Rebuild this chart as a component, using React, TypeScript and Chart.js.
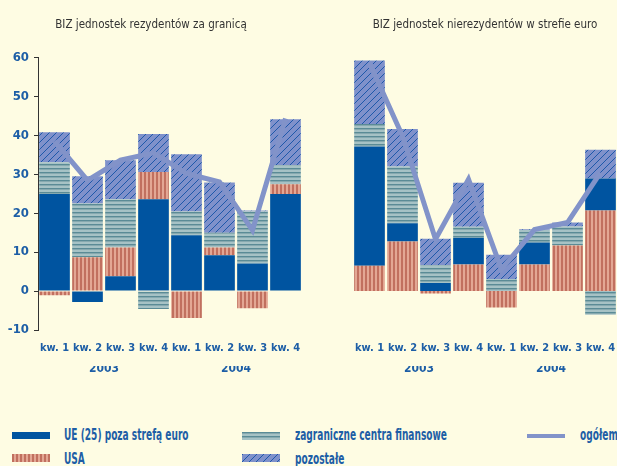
import React, { useEffect, useRef } from "react";
import { Chart, registerables } from "chart.js";

Chart.register(...registerables);

const quarters = ["kw. 1", "kw. 2", "kw. 3", "kw. 4", "kw. 1", "kw. 2", "kw. 3", "kw. 4"];
const years = ["", "2003", "", "", "", "2004", "", ""];

const leftTitle = "BIZ jednostek rezydentów za granicą";
const rightTitle = "BIZ jednostek nierezydentów w strefie euro";

// Left panel: outward FDI by residents
const leftUE = [24.9, -2.8, 3.8, 23.6, 14.3, 9.2, 7.1, 24.9];
const leftUSA = [-1.1, 8.7, 7.4, 7.0, -6.9, 2.0, -4.4, 2.5];
const leftCentra = [8.2, 13.8, 12.4, -4.6, 6.1, 3.8, 13.3, 4.9];
const leftPozostale = [7.7, 7.0, 10.0, 9.7, 14.7, 12.9, 0.3, 11.8];
const leftTotal = [38.5, 28.4, 33.6, 35.5, 30.2, 28.0, 15.6, 44.3];

// Right panel: inward FDI by non-residents
const rightUSA = [6.5, 12.7, -0.6, 6.8, -4.2, 6.8, 11.7, 20.7];
const rightUE = [30.6, 4.7, 2.1, 6.9, 0, 5.7, 0, 8.2];
const rightCentra = [5.8, 14.6, 4.5, 2.8, 3.1, 3.2, 4.9, -6.1];
const rightPozostale = [16.3, 9.6, 6.8, 11.3, 6.2, 0.2, 1.0, 7.4];
const rightTotal = [58.6, 39.8, 13.3, 28.7, 5.6, 15.8, 17.6, 30.4];

const legendUE = "UE (25) poza strefą euro";
const legendUSA = "USA";
const legendCentra = "zagraniczne centra finansowe";
const legendPozostale = "pozostałe";
const legendTotal = "ogółem";

const FONT = '"Liberation Sans Narrow", "DejaVu Sans Condensed", "Open Sans", sans-serif';
const BLUE_TEXT = "#1d5ea6";
const BG = "#fefce3";
const UE_COLOR = "#0054a0";
const LINE_COLOR = "#8293c9";

function makePattern(kind: string): CanvasPattern | string {
  const c = document.createElement("canvas");
  const ctx = c.getContext("2d");
  if (!ctx) return "#888";
  if (kind === "usa") {
    c.width = 4; c.height = 4;
    ctx.fillStyle = "#e3a794"; ctx.fillRect(0, 0, 4, 4);
    ctx.fillStyle = "#c1705f"; ctx.fillRect(0, 0, 2, 4);
  } else if (kind === "centra") {
    c.width = 4; c.height = 4;
    ctx.fillStyle = "#a6c2c5"; ctx.fillRect(0, 0, 4, 4);
    ctx.fillStyle = "#5a8b96"; ctx.fillRect(0, 0, 4, 1);
    ctx.fillStyle = "#86a9af"; ctx.fillRect(0, 1, 4, 1);
  } else {
    c.width = 7; c.height = 7;
    ctx.fillStyle = "#7f91cb"; ctx.fillRect(0, 0, 7, 7);
    ctx.strokeStyle = "#1f58aa"; ctx.lineWidth = 1;
    ctx.beginPath();
    ctx.moveTo(-1, 8); ctx.lineTo(8, -1);
    ctx.moveTo(-1, 1); ctx.lineTo(1, -1);
    ctx.moveTo(6, 8); ctx.lineTo(8, 6);
    ctx.stroke();
  }
  return ctx.createPattern(c, "repeat") || "#888";
}

function buildChart(canvas: HTMLCanvasElement, side: "left" | "right") {
  const usaP = makePattern("usa");
  const centraP = makePattern("centra");
  const pozP = makePattern("poz");
  const isLeft = side === "left";
  const barCommon = { barPercentage: 0.93, categoryPercentage: 1, borderWidth: 0, order: 1, stack: "s" };
  const ue = { type: "bar" as const, label: legendUE, data: isLeft ? leftUE : rightUE, backgroundColor: UE_COLOR, ...barCommon };
  const usa = { type: "bar" as const, label: legendUSA, data: isLeft ? leftUSA : rightUSA, backgroundColor: usaP, ...barCommon };
  const centra = { type: "bar" as const, label: legendCentra, data: isLeft ? leftCentra : rightCentra, backgroundColor: centraP, ...barCommon };
  const poz = { type: "bar" as const, label: legendPozostale, data: isLeft ? leftPozostale : rightPozostale, backgroundColor: pozP, ...barCommon };
  const total = {
    type: "line" as const, label: legendTotal, data: isLeft ? leftTotal : rightTotal,
    borderColor: LINE_COLOR, borderWidth: 5, pointRadius: 0, tension: 0, order: 0, stack: "t",
    borderJoinStyle: "miter" as const,
  };
  const datasets: any[] = isLeft ? [ue, usa, centra, poz, total] : [usa, ue, centra, poz, total];

  const yScale: any = {
    stacked: true,
    min: -10,
    max: 60,
    display: isLeft,
    grid: { drawOnChartArea: false, drawTicks: true, tickLength: 4, color: "#333" },
    border: { display: true, color: "#333", width: 1 },
    ticks: {
      stepSize: 10, color: BLUE_TEXT, padding: 5,
      font: { family: FONT, size: 13, weight: "bold" },
    },
  };
  if (isLeft) yScale.afterFit = (scale: any) => { scale.width = 38; };

  return new Chart(canvas, {
    type: "bar",
    data: { labels: quarters, datasets },
    options: {
      animation: false,
      responsive: false,
      maintainAspectRatio: false,
      layout: { padding: { left: 0, right: isLeft ? 38 : 0, top: 0, bottom: 8 } },
      plugins: {
        legend: { display: false },
        tooltip: { enabled: false },
        title: {
          display: true,
          text: isLeft ? leftTitle : rightTitle,
          color: "#333333",
          font: { family: FONT, size: 11.5, weight: "normal", lineHeight: "16px" },
          padding: { top: 17, bottom: 24.4 },
        },
      },
      scales: {
        x: {
          stacked: true,
          weight: 0,
          grid: { display: false, drawTicks: false },
          border: { display: false },
          ticks: {
            color: BLUE_TEXT, autoSkip: false, maxRotation: 0, padding: 0,
            font: { family: FONT, size: 11, weight: "bold", lineHeight: "36px" },
          },
        },
        xYear: {
          type: "category",
          position: "bottom",
          weight: 1,
          labels: years,
          offset: true,
          grid: { display: false, drawTicks: false },
          border: { display: false },
          ticks: {
            color: BLUE_TEXT, autoSkip: false, maxRotation: 0, padding: 0, labelOffset: 16.5,
            font: { family: FONT, size: 12, weight: "bold", lineHeight: "6px" },
          },
        },
        y: yScale,
      },
    } as any,
  });
}

function ChartPanel({ side, left, width }: { side: "left" | "right"; left: number; width: number }) {
  const ref = useRef<HTMLCanvasElement | null>(null);
  useEffect(() => {
    if (!ref.current) return;
    const chart = buildChart(ref.current, side);
    return () => chart.destroy();
  }, [side]);
  return (
    <canvas
      ref={ref}
      width={width}
      height={380}
      style={{ position: "absolute", left, top: 0, width, height: 380 }}
    />
  );
}

const swatchBase: React.CSSProperties = { position: "absolute", width: 38 };
const textBase: React.CSSProperties = {
  position: "absolute", fontFamily: FONT, fontSize: 15, fontWeight: "bold", color: BLUE_TEXT, lineHeight: "18px", whiteSpace: "nowrap",
  transform: "scaleX(0.67)", transformOrigin: "left center",
};

export default function App() {
  return (
    <div style={{ position: "fixed", left: 0, top: 0, width: 617, height: 466, background: BG, overflow: "hidden" }}>
      <ChartPanel side="left" left={0} width={340} />
      <ChartPanel side="right" left={353} width={264} />
      {/* legend */}
      <div style={{ ...swatchBase, left: 12, top: 432, height: 7, background: UE_COLOR }} />
      <div style={{ ...textBase, left: 64, top: 426 }}>{legendUE}</div>
      <div style={{ ...swatchBase, left: 12, top: 454, height: 8, background: "repeating-linear-gradient(90deg, #c1705f 0 2px, #e3a794 2px 4px)" }} />
      <div style={{ ...textBase, left: 64, top: 450 }}>{legendUSA}</div>
      <div style={{ ...swatchBase, left: 242, top: 432, height: 8, background: "repeating-linear-gradient(180deg, #5a8b96 0 1px, #86a9af 1px 2px, #a6c2c5 2px 4px)" }} />
      <div style={{ ...textBase, left: 295, top: 426 }}>{legendCentra}</div>
      <div style={{ ...swatchBase, left: 242, top: 454, height: 8, background: "repeating-linear-gradient(135deg, #1f58aa 0 1px, #7f91cb 1px 5px)" }} />
      <div style={{ ...textBase, left: 295, top: 450 }}>{legendPozostale}</div>
      <div style={{ ...swatchBase, left: 527, top: 434, height: 4, background: LINE_COLOR }} />
      <div style={{ ...textBase, left: 580, top: 426 }}>{legendTotal}</div>
    </div>
  );
}
